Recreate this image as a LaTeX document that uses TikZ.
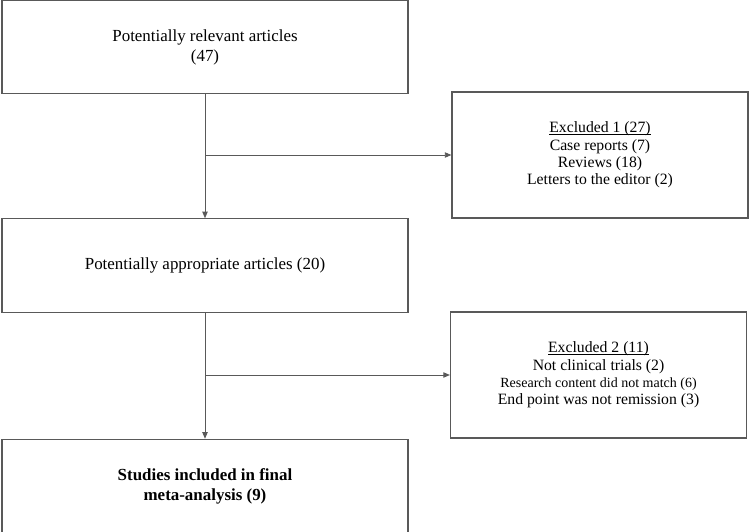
\documentclass[tikz,border=0pt]{standalone}
\usepackage{fontspec}
\setmainfont{Liberation Serif}
\usetikzlibrary{arrows.meta, positioning}
\newlength{\ulwd}
\newcommand{\ultext}[1]{\settowidth{\ulwd}{#1}\rlap{\rule[-1.6pt]{\ulwd}{0.5pt}}#1}

\begin{document}
\begin{tikzpicture}[x=0.75pt, y=-0.75pt,
        box/.style = {
            rectangle,
            draw=black!65,
            line width=0.8pt,
            align = center,
            inner sep=0pt
        },
        mainbox/.style = {
            box,
            font = \fontsize{12.7}{15}\selectfont,
            minimum width=304.5pt,
            minimum height=70pt
        },
        sidebox/.style = {
            box,
            font = \fontsize{11.8}{13}\selectfont,
            minimum width=222pt,
            minimum height=94.5pt
        },
        link/.style = {
            draw=black!65,
            line width=0.7pt,
            -{Triangle[length=5pt, width=4pt]}
        }
    ]
    \useasboundingbox (0,0) rectangle (750,532);

    \node (relevant) [mainbox] at (205,47)
        {Potentially relevant articles\\(47)};
    \node (excl1) [sidebox] at (600,155)
        {\ultext{Excluded 1 (27)}\\Case reports (7)\\Reviews (18)\\Letters to the editor (2)};
    \node (appropriate) [mainbox] at (205,265.5)
        {Potentially appropriate articles (20)};
    \node (excl2) [sidebox] at (598.5,375)
        {\ultext{Excluded 2 (11)}\\Not clinical trials (2)\\{\fontsize{10.5}{13}\selectfont Research content did not match (6)}\\End point was not remission (3)};
    \node (included) [mainbox] at (205,486)
        {\bfseries Studies included in final\\\bfseries meta-analysis (9)};

    \draw[link] (relevant) -- (appropriate);
    \draw[link] (relevant.south |- excl1.west) -- (excl1.west);
    \draw[link] (appropriate) -- (included);
    \draw[link] (appropriate.south |- excl2.west) -- (excl2.west);
\end{tikzpicture}
\end{document}
